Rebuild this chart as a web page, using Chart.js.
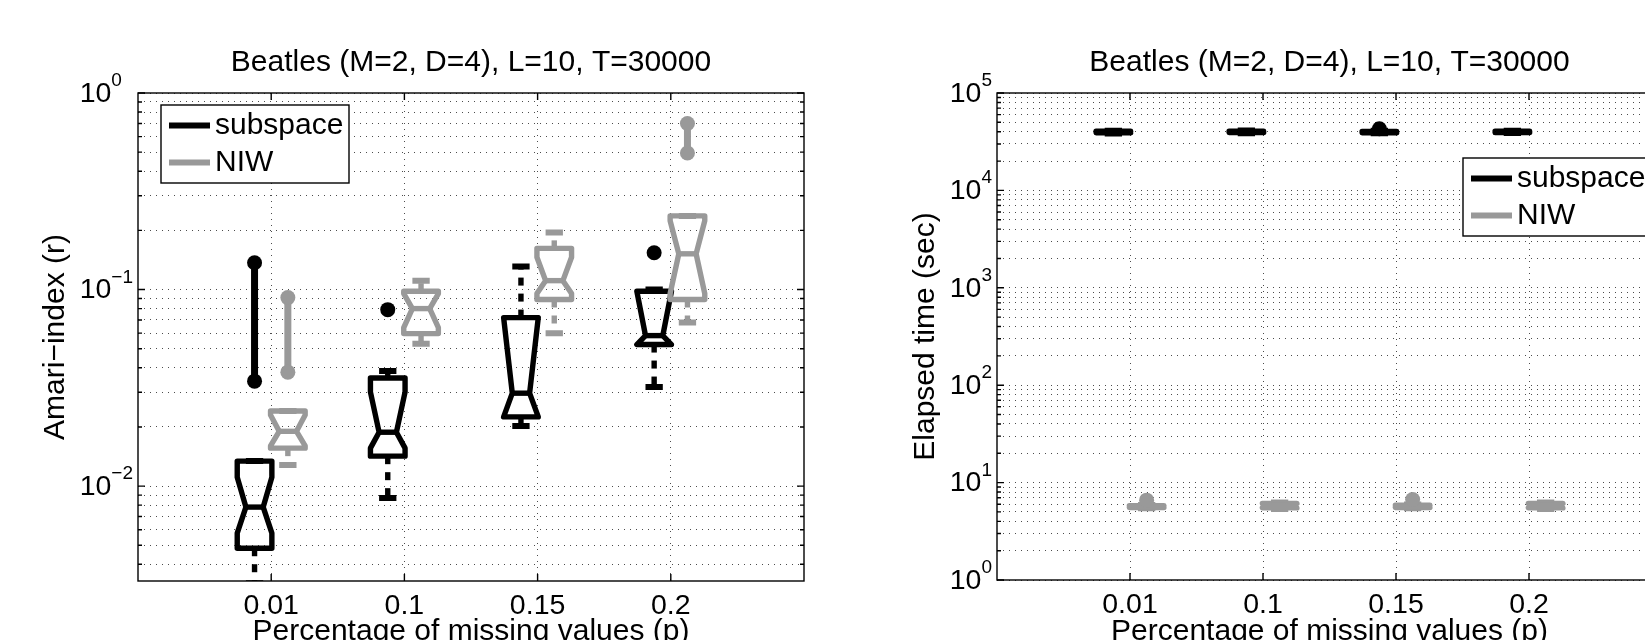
<!DOCTYPE html>
<html>
<head>
<meta charset="utf-8">
<script src="https://cdn.jsdelivr.net/npm/chart.js@4.4.0/dist/chart.umd.min.js"></script>
<style>
  html, body { margin: 0; padding: 0; background: #fff; overflow: hidden; }
  #page { position: relative; width: 1645px; height: 640px; overflow: hidden; background: #fff; }
  .panel { position: absolute; top: 0; }
  #amariWrap { left: 0; width: 860px; height: 680px; }
  #timeWrap { left: 860px; width: 840px; height: 680px; }
</style>
</head>
<body>
<div id="page">
  <div class="panel" id="amariWrap"><canvas id="amariChart" width="860" height="680"></canvas></div>
  <div class="panel" id="timeWrap"><canvas id="timeChart" width="840" height="680"></canvas></div>
</div>
<script>
// ---- data ----
const categories = ['0.01', '0.1', '0.15', '0.2'];
const seriesNames = ['subspace', 'NIW'];
const chartTitle = 'Beatles (M=2, D=4), L=10, T=30000';

// Amari-index, subspace
const amariSubWhiskerLo = [0.0032, 0.0087, 0.0202, 0.0319];
const amariSubQ1 = [0.00483, 0.0142, 0.0225, 0.0525];
const amariSubNotchLo = [0.00576, 0.0156, 0.0225, 0.0525];
const amariSubMedian = [0.00782, 0.0188, 0.0297, 0.0583];
const amariSubNotchHi = [0.0111, 0.0301, 0.072, 0.098];
const amariSubQ3 = [0.0134, 0.0355, 0.072, 0.098];
const amariSubWhiskerHi = [0.0134, 0.0385, 0.131, 0.1];
const amariSubOutliers = [[0.137, 0.0342], [0.079], [], [0.154]];

// Amari-index, NIW
const amariNiwWhiskerLo = [0.0128, 0.053, 0.060, 0.068];
const amariNiwQ1 = [0.0156, 0.0597, 0.089, 0.089];
const amariNiwNotchLo = [0.0160, 0.064, 0.0954, 0.0954];
const amariNiwMedian = [0.019, 0.080, 0.111, 0.152];
const amariNiwNotchHi = [0.023, 0.0954, 0.146, 0.224];
const amariNiwQ3 = [0.0241, 0.098, 0.162, 0.237];
const amariNiwWhiskerHi = [0.0241, 0.111, 0.195, 0.237];
const amariNiwOutliers = [[0.091, 0.038], [], [], [0.70, 0.495]];

// Elapsed time (sec), subspace
const timeSubWhiskerLo = [38500, 38700, 38600, 38800];
const timeSubQ1 = [39000, 39200, 39000, 39200];
const timeSubMedian = [39800, 39900, 39600, 39800];
const timeSubQ3 = [40500, 40600, 40300, 40500];
const timeSubWhiskerHi = [41000, 41200, 40900, 41000];
const timeSubOutliers = [[], [], [43000], []];

// Elapsed time (sec), NIW
const timeNiwWhiskerLo = [5.45, 5.35, 5.45, 5.35];
const timeNiwQ1 = [5.55, 5.5, 5.55, 5.5];
const timeNiwMedian = [5.65, 5.8, 5.7, 5.8];
const timeNiwQ3 = [5.8, 6.1, 5.85, 6.1];
const timeNiwWhiskerHi = [5.9, 6.25, 5.95, 6.25];
const timeNiwOutliers = [[6.6], [], [6.7], []];

// y tick labels, as powers of ten
const amariTickExponents = [-2, -1, 0];
const timeTickExponents = [0, 1, 2, 3, 4, 5];

// ---- styling ----
const FONT = "'Liberation Sans', Arial, Helvetica, sans-serif";
const COLORS = ['#000000', '#999999'];
const OFFSETS = [-0.125, 0.125];
const BOX_HALF = 0.13;
const CAP_HALF = 0.065;
const GRID_COLOR = 'rgba(0,0,0,0.7)';
const GRID_DASH = [1, 5];
const LINE_W = 5.4;

Chart.defaults.font.family = FONT;

function buildLogTicks(min, max) {
    const ticks = [];
    for (let e = Math.floor(Math.log10(min)); e <= Math.ceil(Math.log10(max)); e++) {
        for (let k = 1; k <= 9; k++) {
            const v = k * Math.pow(10, e);
            if (v >= min * 0.9999 && v <= max * 1.0001) ticks.push({ value: v, major: k === 1 });
        }
    }
    return ticks;
}

function outlierPoints(outliers, si) {
    const pts = [];
    outliers.forEach((group, i) => {
        group.forEach(v => pts.push({ x: i + 1 + OFFSETS[si], y: v }));
        pts.push({ x: i + 1 + OFFSETS[si], y: null });
    });
    return pts;
}

// notched boxes + dashed whiskers, drawn through the chart scales
function boxPlotPlugin(series) {
    return {
        id: 'boxPlots',
        beforeDatasetsDraw(chart) {
            const { ctx, chartArea: a, scales: { x, y } } = chart;
            ctx.save();
            ctx.beginPath();
            ctx.rect(a.left, a.top, a.right - a.left, a.bottom - a.top);
            ctx.clip();
            series.forEach((s, si) => {
                ctx.strokeStyle = COLORS[si];
                s.median.forEach((med, i) => {
                    const c = i + 1 + OFFSETS[si];
                    const L = x.getPixelForValue(c - BOX_HALF);
                    const R = x.getPixelForValue(c + BOX_HALF);
                    const C = x.getPixelForValue(c);
                    const capL = x.getPixelForValue(c - CAP_HALF);
                    const capR = x.getPixelForValue(c + CAP_HALF);
                    const d = (R - L) / 4;
                    const q1 = y.getPixelForValue(s.q1[i]);
                    const q3 = y.getPixelForValue(s.q3[i]);
                    const m = y.getPixelForValue(med);
                    const nLo = y.getPixelForValue(Math.max(s.notchLo[i], s.q1[i]));
                    const nHi = y.getPixelForValue(Math.min(s.notchHi[i], s.q3[i]));
                    const wLo = y.getPixelForValue(s.whiskerLo[i]);
                    const wHi = y.getPixelForValue(s.whiskerHi[i]);

                    // whiskers
                    ctx.lineCap = 'butt';
                    ctx.lineWidth = LINE_W;
                    ctx.setLineDash([8, 8]);
                    if (s.whiskerLo[i] < s.q1[i]) {
                        ctx.beginPath(); ctx.moveTo(C, q1); ctx.lineTo(C, wLo); ctx.stroke();
                    }
                    if (s.whiskerHi[i] > s.q3[i]) {
                        ctx.beginPath(); ctx.moveTo(C, q3); ctx.lineTo(C, wHi); ctx.stroke();
                    }
                    ctx.setLineDash([]);
                    ctx.lineWidth = 6;
                    ctx.beginPath();
                    ctx.moveTo(capL, wLo); ctx.lineTo(capR, wLo);
                    ctx.moveTo(capL, wHi); ctx.lineTo(capR, wHi);
                    ctx.stroke();

                    // notched box
                    ctx.lineWidth = LINE_W;
                    ctx.lineJoin = 'round';
                    ctx.beginPath();
                    ctx.moveTo(L, q3); ctx.lineTo(L, nHi); ctx.lineTo(L + d, m); ctx.lineTo(L, nLo); ctx.lineTo(L, q1);
                    ctx.lineTo(R, q1); ctx.lineTo(R, nLo); ctx.lineTo(R - d, m); ctx.lineTo(R, nHi); ctx.lineTo(R, q3);
                    ctx.closePath();
                    ctx.stroke();
                    ctx.beginPath(); ctx.moveTo(L + d, m); ctx.lineTo(R - d, m); ctx.stroke();
                });
            });
            ctx.restore();
        }
    };
}

// axes box, inward ticks, 10^n labels, legend
function framePlugin(cfg) {
    return {
        id: 'frame',
        afterDraw(chart) {
            const { ctx, chartArea: a, scales: { x, y } } = chart;
            ctx.save();
            ctx.setLineDash([]);
            ctx.strokeStyle = '#000';
            ctx.lineWidth = 1.4;
            ctx.strokeRect(a.left, a.top, a.right - a.left, a.bottom - a.top);
            ctx.beginPath();
            x.ticks.forEach(t => {
                const px = x.getPixelForValue(t.value);
                ctx.moveTo(px, a.bottom); ctx.lineTo(px, a.bottom - 7);
                ctx.moveTo(px, a.top); ctx.lineTo(px, a.top + 7);
            });
            y.ticks.forEach(t => {
                const py = y.getPixelForValue(t.value);
                const len = t.major ? 7 : 4;
                ctx.moveTo(a.left, py); ctx.lineTo(a.left + len, py);
                ctx.moveTo(a.right, py); ctx.lineTo(a.right - len, py);
            });
            ctx.stroke();

            // y tick labels 10^e
            ctx.fillStyle = '#000';
            ctx.font = '19px ' + FONT;
            const sups = cfg.exponents.map(e => (e < 0 ? '\u2212' + (-e) : String(e)));
            const supW = Math.max(...sups.map(t => ctx.measureText(t).width));
            const baseRight = a.left - 5 - supW;
            cfg.exponents.forEach((e, k) => {
                const py = y.getPixelForValue(Math.pow(10, e));
                ctx.font = '28.5px ' + FONT;
                ctx.textAlign = 'right';
                ctx.textBaseline = 'middle';
                ctx.fillText('10', baseRight, py + 1);
                ctx.font = '19px ' + FONT;
                ctx.textAlign = 'left';
                ctx.textBaseline = 'alphabetic';
                ctx.fillText(sups[k], baseRight, py - 7);
            });

            // legend
            const lx = a.left + cfg.legendX, ly = a.top + cfg.legendY;
            ctx.fillStyle = '#fff';
            ctx.fillRect(lx, ly, 188, 78);
            ctx.strokeStyle = '#000';
            ctx.lineWidth = 1.4;
            ctx.strokeRect(lx, ly, 188, 78);
            chart.data.datasets.forEach((ds, i) => {
                const rowY = ly + 20.5 + i * 37;
                ctx.strokeStyle = ds.borderColor;
                ctx.lineWidth = 5.8;
                ctx.beginPath(); ctx.moveTo(lx + 8, rowY); ctx.lineTo(lx + 49, rowY); ctx.stroke();
                ctx.fillStyle = '#000';
                ctx.font = '30px ' + FONT;
                ctx.textAlign = 'left';
                ctx.textBaseline = 'middle';
                ctx.fillText(ds.label, lx + 54, rowY + 0.5);
            });
            ctx.restore();
        }
    };
}

function makeChart(canvasId, cfg) {
    return new Chart(document.getElementById(canvasId), {
        type: 'line',
        data: {
            datasets: cfg.series.map((s, si) => ({
                label: seriesNames[si],
                data: outlierPoints(s.outliers, si),
                borderColor: COLORS[si],
                backgroundColor: COLORS[si],
                borderWidth: 7,
                pointRadius: 7.5,
                pointHoverRadius: 7.5,
                pointBorderWidth: 0,
                spanGaps: false,
                showLine: true
            }))
        },
        options: {
            responsive: false,
            animation: false,
            devicePixelRatio: 1,
            events: [],
            layout: { padding: { left: 0, top: 0, bottom: 0, right: cfg.padRight } },
            plugins: {
                legend: { display: false },
                tooltip: { enabled: false },
                title: {
                    display: true, text: chartTitle, fullSize: false, color: '#000',
                    font: { family: FONT, size: 30, weight: 'normal', lineHeight: 1.2 },
                    padding: { top: 45, bottom: 12 }
                }
            },
            scales: {
                x: {
                    type: 'linear', min: 0, max: 5,
                    afterBuildTicks: s => { s.ticks = categories.map((c, i) => ({ value: i + 1 })); },
                    afterFit: s => { s.height = cfg.xHeight; },
                    ticks: {
                        callback: v => categories[Math.round(v) - 1],
                        color: '#000', font: { family: FONT, size: 28.5 }, padding: 8,
                        maxRotation: 0, autoSkip: false
                    },
                    grid: { color: GRID_COLOR, lineWidth: 1, drawTicks: false },
                    border: { display: false, dash: GRID_DASH },
                    title: {
                        display: true, text: 'Percentage of missing values (p)', color: '#000',
                        font: { family: FONT, size: 30, lineHeight: 1.2 }, padding: { top: 0, bottom: 30 }
                    }
                },
                y: {
                    type: 'logarithmic', min: cfg.yMin, max: cfg.yMax,
                    afterBuildTicks: s => { s.ticks = buildLogTicks(cfg.yMin, cfg.yMax); },
                    afterFit: s => { s.width = cfg.yWidth; },
                    ticks: { display: false },
                    grid: { color: GRID_COLOR, lineWidth: 1, drawTicks: false },
                    border: { display: false, dash: GRID_DASH },
                    title: {
                        display: true, text: cfg.yLabel, color: '#000',
                        font: { family: FONT, size: 30, lineHeight: 1.2 }, padding: { top: cfg.yTitlePad, bottom: 0 }
                    }
                }
            }
        },
        plugins: [boxPlotPlugin(cfg.series), framePlugin(cfg)]
    });
}

makeChart('amariChart', {
    yMin: 0.00329, yMax: 1, yWidth: 138, xHeight: 99, padRight: 56, yTitlePad: 37.3,
    yLabel: 'Amari\u2212index (r)', exponents: amariTickExponents, legendX: 23, legendY: 12,
    series: [
        { whiskerLo: amariSubWhiskerLo, q1: amariSubQ1, notchLo: amariSubNotchLo, median: amariSubMedian,
          notchHi: amariSubNotchHi, q3: amariSubQ3, whiskerHi: amariSubWhiskerHi, outliers: amariSubOutliers },
        { whiskerLo: amariNiwWhiskerLo, q1: amariNiwQ1, notchLo: amariNiwNotchLo, median: amariNiwMedian,
          notchHi: amariNiwNotchHi, q3: amariNiwQ3, whiskerHi: amariNiwWhiskerHi, outliers: amariNiwOutliers }
    ]
});

makeChart('timeChart', {
    yMin: 1, yMax: 100000, yWidth: 137, xHeight: 100, padRight: 38, yTitlePad: 47.3,
    yLabel: 'Elapsed time (sec)', exponents: timeTickExponents, legendX: 466, legendY: 65,
    series: [
        { whiskerLo: timeSubWhiskerLo, q1: timeSubQ1, notchLo: timeSubQ1, median: timeSubMedian,
          notchHi: timeSubQ3, q3: timeSubQ3, whiskerHi: timeSubWhiskerHi, outliers: timeSubOutliers },
        { whiskerLo: timeNiwWhiskerLo, q1: timeNiwQ1, notchLo: timeNiwQ1, median: timeNiwMedian,
          notchHi: timeNiwQ3, q3: timeNiwQ3, whiskerHi: timeNiwWhiskerHi, outliers: timeNiwOutliers }
    ]
});
</script>
</body>
</html>
